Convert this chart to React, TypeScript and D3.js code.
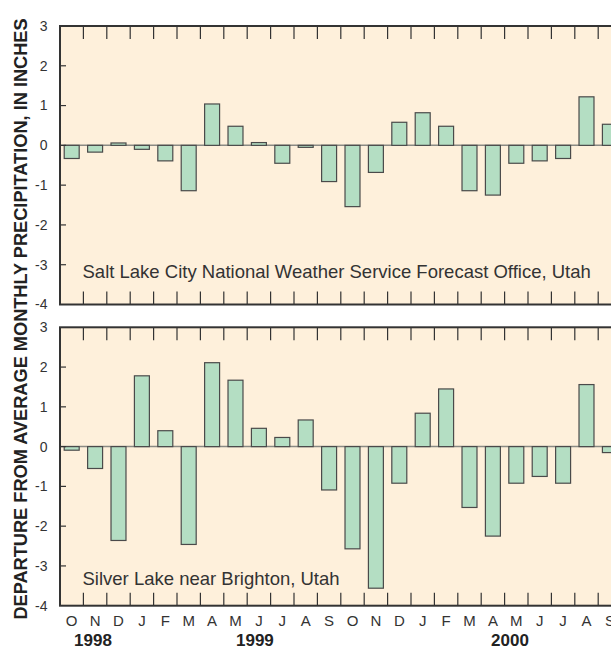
import React from "react";
import * as d3 from "d3";

const months = ["O","N","D","J","F","M","A","M","J","J","A","S","O","N","D","J","F","M","A","M","J","J","A","S"];
const saltLake = [-0.33,-0.17,0.06,-0.1,-0.39,-1.14,1.04,0.48,0.07,-0.45,-0.05,-0.91,-1.54,-0.68,0.58,0.82,0.48,-1.14,-1.25,-0.45,-0.39,-0.33,1.22,0.53];
const silverLake = [-0.09,-0.55,-2.36,1.78,0.4,-2.46,2.11,1.67,0.46,0.23,0.67,-1.09,-2.57,-3.56,-0.92,0.84,1.45,-1.53,-2.25,-0.92,-0.75,-0.92,1.56,-0.15];
const yTicks = [-4,-3,-2,-1,0,1,2,3];
const years = [{ label: "1998", pos: 1.41 }, { label: "1999", pos: 8.33 }, { label: "2000", pos: 19.23 }];
const panelTitles = ["Salt Lake City National Weather Service Forecast Office, Utah", "Silver Lake near Brighton, Utah"];
const yTitle = "DEPARTURE FROM AVERAGE MONTHLY PRECIPITATION, IN INCHES";

const W = 611, H = 651;
const left = 60;
const band = 23.4;
const x = d3.scaleBand<number>().domain(d3.range(months.length)).range([left, left + band * months.length]).paddingInner(0.36).paddingOuter(0.18);
const xLin = d3.scaleLinear().domain([0, months.length]).range([left, left + band * months.length]);
const panels = [
  { top: 26, bottom: 304.5, data: saltLake, titleOffset: 26.2 },
  { top: 327.3, bottom: 605.7, data: silverLake, titleOffset: 20.7 },
];
const font = "Liberation Sans, Arial, Helvetica, sans-serif";

function Panel({ top, bottom, data, title, titleOffset }: any) {
  const y = d3.scaleLinear().domain([-4, 3]).range([bottom, top]);
  const right = left + band * months.length;
  return (
    <g>
      <rect x={left} y={top} width={right - left} height={bottom - top} fill="#FEF0DB" />
      <line x1={left} x2={right} y1={y(0)} y2={y(0)} stroke="#8a8a84" strokeWidth={1.5} />
      {data.map((v: number, i: number) => (
        <rect key={i} x={x(i)} width={x.bandwidth()} y={y(Math.max(0, v))} height={Math.abs(y(v) - y(0))}
          fill="#B4DEC3" stroke="#4a4a4a" strokeWidth={1.2} />
      ))}
      {d3.range(1, months.length).map((i) => (
        <g key={i}>
          <line x1={xLin(i)} x2={xLin(i)} y1={top} y2={top + 13} stroke="#333" strokeWidth={1.2} />
          <line x1={xLin(i)} x2={xLin(i)} y1={bottom} y2={bottom - 13} stroke="#333" strokeWidth={1.2} />
        </g>
      ))}
      {yTicks.filter((t) => t > -4 && t < 3).map((t) => (
        <line key={t} x1={left} x2={left + 6} y1={y(t)} y2={y(t)} stroke="#333" strokeWidth={1.2} />
      ))}
      {yTicks.map((t) => (
        <text key={t} x={47.5} y={y(t)} dy="0.35em" textAnchor="end" fontSize={14} fill="#333" fontFamily={font}>{t}</text>
      ))}
      <text x={82.5} y={bottom - titleOffset} fontSize={18.5} fill="#333" fontFamily={font}>{title}</text>
      <rect x={left} y={top} width={right - left} height={bottom - top} fill="none" stroke="#333" strokeWidth={2} />
    </g>
  );
}

export default function App() {
  const lastBottom = panels[1].bottom;
  return (
    <svg width={W} height={H} style={{ position: "absolute", left: 0, top: 0, background: "#fff" }}>
      {panels.map((p, i) => (
        <Panel key={i} {...p} title={panelTitles[i]} />
      ))}
      {months.map((m, i) => (
        <text key={i} x={xLin(i + 0.5)} y={lastBottom + 20.5} textAnchor="middle" fontSize={15} fill="#333" fontFamily={font}>{m}</text>
      ))}
      {years.map((yr) => (
        <text key={yr.label} x={xLin(yr.pos)} y={lastBottom + 40.5} textAnchor="middle" fontSize={17} fontWeight="bold" fill="#222" fontFamily={font}>{yr.label}</text>
      ))}
      <text transform={`translate(20.5, 319) rotate(-90)`} textAnchor="middle" dy="0.35em" fontSize={18.2} fontWeight="bold" fill="#222" fontFamily={font}>{yTitle}</text>
    </svg>
  );
}
